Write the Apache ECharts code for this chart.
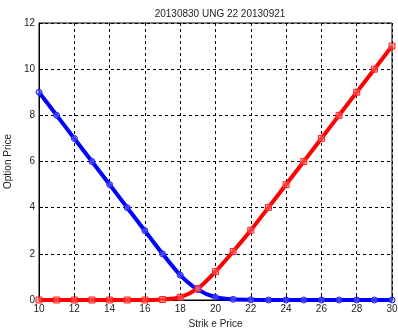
<!DOCTYPE html>
<html><head><meta charset="utf-8">
<script src="https://cdn.jsdelivr.net/npm/echarts@6/dist/echarts.min.js"></script>
<style>html,body{margin:0;padding:0;background:#fff}#c{width:398px;height:328px}</style>
</head><body><div id="c"></div>
<script>
const strikes = [10,11,12,13,14,15,16,17,18,19,20,21,22,23,24,25,26,27,28,29,30];
const putPrices = [9,8,7,6,5,4,3,2,1.08,0.45,0.12,0.03,0.01,0,0,0,0,0,0,0,0];
const callPrices = [0,0,0,0,0,0,0,0.02,0.12,0.5,1.23,2.1,3.02,4.01,5,6,7,8,9,10,11];
const xTicks = [10,12,14,16,18,20,22,24,26,28,30];
const yTicks = [0,2,4,6,8,10,12];

const chart = echarts.init(document.getElementById('c'));
const font = 'Liberation Sans, Arial, sans-serif';
chart.setOption({
  animation:false,
  title:{text:'20130830 UNG 22 20130921',left:215,top:4,textAlign:'center',
    textStyle:{fontSize:10,fontWeight:'normal',color:'#222',fontFamily:font}},
  grid:{left:39,right:6,top:23,bottom:28,show:true,borderColor:'#000',borderWidth:1,
    outerBoundsMode:'none',containLabel:false},
  xAxis:{type:'value',min:10,max:30,interval:2,name:'Strik e Price',nameLocation:'middle',nameGap:17,
    nameTextStyle:{fontSize:10,color:'#222',fontFamily:font},
    axisLine:{lineStyle:{color:'#000'}},axisTick:{inside:true,length:4,lineStyle:{color:'#000'}},
    axisLabel:{fontSize:10,color:'#222',fontFamily:font,margin:4,
      formatter:v=>xTicks.includes(v)?String(v):''},
    splitLine:{lineStyle:{color:'#000',type:[3,3],width:1}}},
  yAxis:{type:'value',min:0,max:12,interval:2,name:'Option Price',nameLocation:'middle',nameGap:20,
    nameTextStyle:{fontSize:10,color:'#222',fontFamily:font},
    axisLine:{lineStyle:{color:'#000'}},axisTick:{inside:true,length:4,lineStyle:{color:'#000'}},
    axisLabel:{fontSize:10,color:'#222',fontFamily:font,margin:4,
      formatter:v=>yTicks.includes(v)?String(v):''},
    splitLine:{lineStyle:{color:'#000',type:[3,3],width:1}}},
  series:[
    {type:'line',data:strikes.map((s,i)=>[s,putPrices[i]]),smooth:0.3,
     lineStyle:{color:'#0000ff',width:4},symbol:'circle',symbolSize:6,
     itemStyle:{color:'rgba(120,120,255,0.5)',borderColor:'#2020ff',borderWidth:1}},
    {type:'line',data:strikes.map((s,i)=>[s,callPrices[i]]),smooth:0.3,
     lineStyle:{color:'#ff0000',width:4},symbol:'rect',symbolSize:6,
     itemStyle:{color:'rgba(255,120,120,0.5)',borderColor:'#ff2020',borderWidth:1}}
  ]
});
</script></body></html>
